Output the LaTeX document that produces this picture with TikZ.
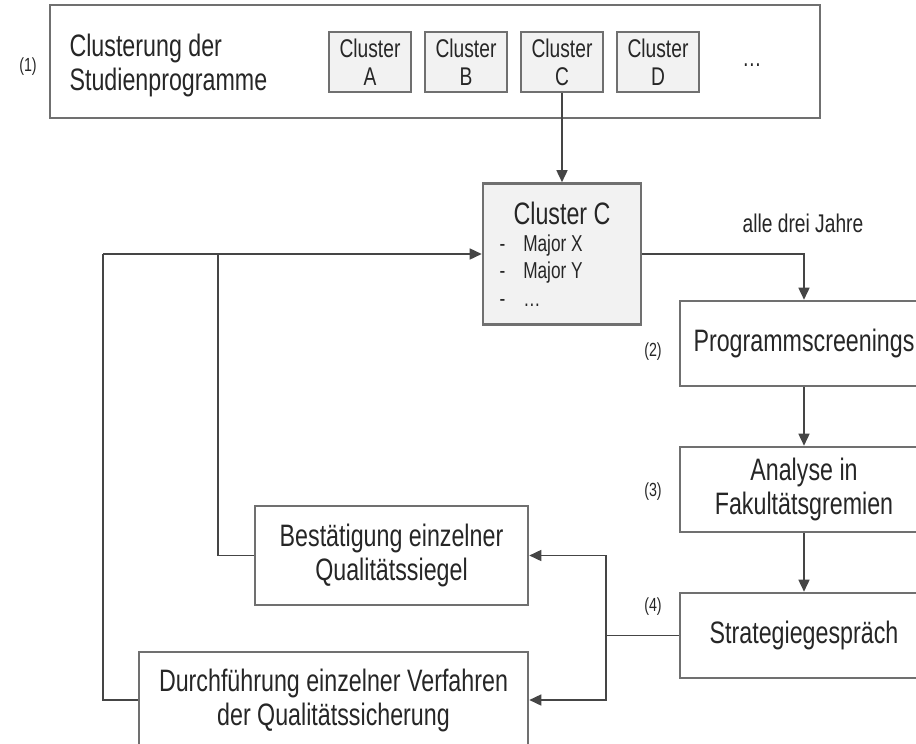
\documentclass[tikz,border=0pt]{standalone}
\usepackage{fontspec}
\setmainfont{Liberation Sans}[FakeStretch=0.75]
\usetikzlibrary{arrows.meta}

\definecolor{framegrey}{HTML}{707070}
\definecolor{linegrey}{HTML}{454545}
\definecolor{fillgrey}{HTML}{F2F2F2}
\newcommand{\bigtext}{\fontsize{31}{34}\selectfont}
\newcommand{\smalltext}{\fontsize{25.6}{28}\selectfont}
\newcommand{\listtext}{\fontsize{23}{26}\selectfont}
\newcommand{\tinytext}{\fontsize{19}{22}\selectfont}

\tikzset{
  box/.style={draw=framegrey, line width=2.6pt, fill=white, inner sep=0pt, font=\bigtext, align=center},
  greybox/.style={box, fill=fillgrey},
  link/.style={draw=linegrey, line width=1.6pt},
  arrow/.style={link, -{Triangle[length=12pt,width=11pt]}},
  number/.style={font=\tinytext},
}

\begin{document}
\begin{tikzpicture}[x=1pt,y=-1pt,text=black!85]
\useasboundingbox (0,0) rectangle (916,744);
\clip (0,0) rectangle (916,744);
% (1) clustering of the programmes
\node[box, minimum width=770pt, minimum height=113pt] (clustering) at (435,61.5) {};
\node[anchor=west, font=\bigtext, align=left] (clustertitle) at (66,65) {Clusterung der\\Studienprogramme};
\node[number] (n1) at (28,67) {(1)};
\foreach \name/\x in {A/370,B/466,C/562,D/658}
  \node[greybox, font=\smalltext, minimum width=82pt, minimum height=60pt] (cl\name) at (\x,62) {Cluster\\\name};
\node[font=\smalltext] (more) at (752,65) {\dots};

% cluster C in detail
\node[greybox, minimum width=158pt, minimum height=141pt] (clusterC) at (562,254) {};
\node[font=\bigtext] (ctitle) at (562,213) {Cluster C};
\foreach \entry/\y in {Major X/246, Major Y/273, \dots/303}
  \node[anchor=west, font=\listtext] at (496,\y) {-\hspace{18pt}\entry};

% (2)-(4) right column
\node[box, minimum width=248pt, minimum height=85pt] (screening) at (804,343.5) {Programmscreenings};
\node[box, minimum width=248pt, minimum height=85pt] (analysis) at (804,489.5) {Analyse in\\Fakultätsgremien};
\node[box, minimum width=248pt, minimum height=85pt] (strategy) at (804,635.5) {Strategiegespräch};
\node[number] (n2) at (653,352) {(2)};
\node[number] (n3) at (653,492) {(3)};
\node[number] (n4) at (653,607) {(4)};

% outcomes
\node[box, minimum width=273pt, minimum height=99pt] (seal) at (391.5,555.5) {Bestätigung einzelner\\Qualitätssiegel};
\node[box, minimum width=389pt, minimum height=96pt] (procedure) at (333.5,700) {Durchführung einzelner Verfahren\\der Qualitätssicherung};

% connectors
\draw[arrow] (clC.south) -- (clusterC.north);
\draw[arrow] (clusterC.east) -| (screening.north);
\node[font=\smalltext] (every3) at (803,223) {alle drei Jahre};
\draw[arrow] (screening) -- (analysis);
\draw[arrow] (analysis) -- (strategy);
\coordinate (fork) at (606,635.5);
\draw[link] (strategy.west) -- (fork);
\draw[arrow] (fork) |- (seal.east);
\draw[arrow] (fork) |- (procedure.east);
\coordinate (outer) at (103,254);
\coordinate (inner) at (218,254);
\draw[link] (procedure.west) -| (outer);
\draw[link] (seal.west) -| (inner);
\draw[arrow] (outer) -- (clusterC.west);
\end{tikzpicture}
\end{document}
